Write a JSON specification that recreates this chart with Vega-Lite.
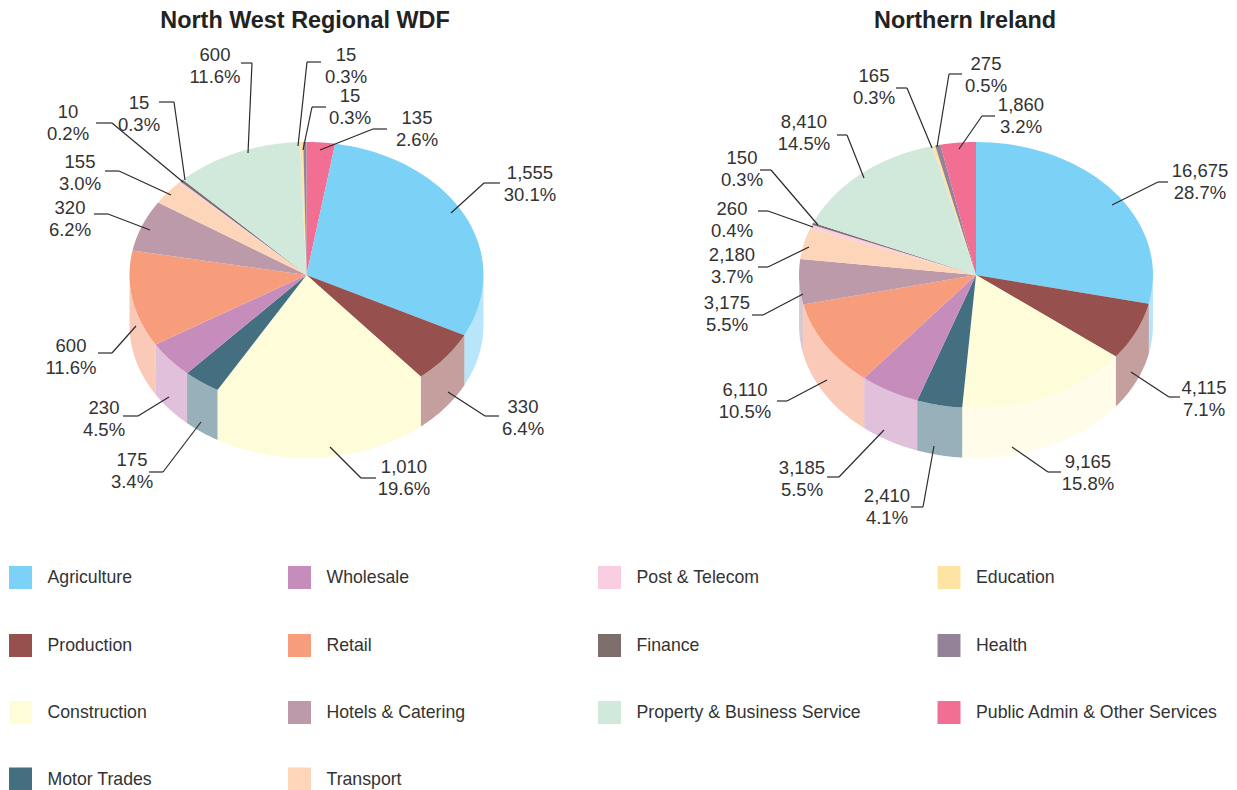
{
"$schema":"https://vega.github.io/schema/vega-lite/v6.json",
"width":1237,"height":790,"padding":0,"autosize":{"type":"none"},"background":"white",
"config":{"view":{"stroke":null},"font":"Liberation Sans"},
"datasets":{
"sectors":[
{"panel":1,"chart":"North West Regional WDF","rank":0,"sector":"Public Admin & Other Services","value":135,"share":0.026},
{"panel":1,"chart":"North West Regional WDF","rank":1,"sector":"Agriculture","value":1555,"share":0.301},
{"panel":1,"chart":"North West Regional WDF","rank":2,"sector":"Production","value":330,"share":0.064},
{"panel":1,"chart":"North West Regional WDF","rank":3,"sector":"Construction","value":1010,"share":0.196},
{"panel":1,"chart":"North West Regional WDF","rank":4,"sector":"Motor Trades","value":175,"share":0.034},
{"panel":1,"chart":"North West Regional WDF","rank":5,"sector":"Wholesale","value":230,"share":0.045},
{"panel":1,"chart":"North West Regional WDF","rank":6,"sector":"Retail","value":600,"share":0.116},
{"panel":1,"chart":"North West Regional WDF","rank":7,"sector":"Hotels & Catering","value":320,"share":0.062},
{"panel":1,"chart":"North West Regional WDF","rank":8,"sector":"Transport","value":155,"share":0.03},
{"panel":1,"chart":"North West Regional WDF","rank":9,"sector":"Post & Telecom","value":10,"share":0.002},
{"panel":1,"chart":"North West Regional WDF","rank":10,"sector":"Finance","value":15,"share":0.003},
{"panel":1,"chart":"North West Regional WDF","rank":11,"sector":"Property & Business Service","value":600,"share":0.116},
{"panel":1,"chart":"North West Regional WDF","rank":12,"sector":"Education","value":15,"share":0.003},
{"panel":1,"chart":"North West Regional WDF","rank":13,"sector":"Health","value":15,"share":0.003},
{"panel":2,"chart":"Northern Ireland","rank":0,"sector":"Agriculture","value":16675,"share":0.287},
{"panel":2,"chart":"Northern Ireland","rank":1,"sector":"Production","value":4115,"share":0.071},
{"panel":2,"chart":"Northern Ireland","rank":2,"sector":"Construction","value":9165,"share":0.158},
{"panel":2,"chart":"Northern Ireland","rank":3,"sector":"Motor Trades","value":2410,"share":0.041},
{"panel":2,"chart":"Northern Ireland","rank":4,"sector":"Wholesale","value":3185,"share":0.055},
{"panel":2,"chart":"Northern Ireland","rank":5,"sector":"Retail","value":6110,"share":0.105},
{"panel":2,"chart":"Northern Ireland","rank":6,"sector":"Hotels & Catering","value":3175,"share":0.055},
{"panel":2,"chart":"Northern Ireland","rank":7,"sector":"Transport","value":2180,"share":0.037},
{"panel":2,"chart":"Northern Ireland","rank":8,"sector":"Post & Telecom","value":260,"share":0.004},
{"panel":2,"chart":"Northern Ireland","rank":9,"sector":"Finance","value":150,"share":0.003},
{"panel":2,"chart":"Northern Ireland","rank":10,"sector":"Property & Business Service","value":8410,"share":0.145},
{"panel":2,"chart":"Northern Ireland","rank":11,"sector":"Education","value":165,"share":0.003},
{"panel":2,"chart":"Northern Ireland","rank":12,"sector":"Health","value":275,"share":0.005},
{"panel":2,"chart":"Northern Ireland","rank":13,"sector":"Public Admin & Other Services","value":1860,"share":0.032}
],
"placement":[
{"id":"1|Public Admin & Other Services","ax":320,"ay":150,"bx":373,"by":129,"cx":387,"cy":129,"lx":417,"ly":128.5},
{"id":"1|Agriculture","ax":451,"ay":213,"bx":484,"by":183,"cx":500,"cy":183,"lx":530,"ly":183},
{"id":"1|Production","ax":448,"ay":392,"bx":485,"by":416,"cx":499,"cy":416,"lx":523,"ly":417.5},
{"id":"1|Construction","ax":330,"ay":447,"bx":361,"by":478,"cx":376,"cy":478,"lx":404,"ly":477},
{"id":"1|Motor Trades","ax":201,"ay":422,"bx":163,"by":472,"cx":149,"cy":472,"lx":132,"ly":470.5},
{"id":"1|Wholesale","ax":169,"ay":397,"bx":138,"by":416,"cx":123,"cy":416,"lx":104,"ly":418},
{"id":"1|Retail","ax":136,"ay":326,"bx":112,"by":353,"cx":98,"cy":353,"lx":71,"ly":356},
{"id":"1|Hotels & Catering","ax":150,"ay":230,"bx":108,"by":214,"cx":94,"cy":214,"lx":70,"ly":218},
{"id":"1|Transport","ax":171,"ay":195,"bx":119,"by":171,"cx":105,"cy":171,"lx":80,"ly":172},
{"id":"1|Post & Telecom","ax":183,"ay":182,"bx":112,"by":123,"cx":96,"cy":123,"lx":68,"ly":122},
{"id":"1|Finance","ax":185,"ay":180,"bx":174,"by":102,"cx":159,"cy":102,"lx":139,"ly":113.5},
{"id":"1|Property & Business Service","ax":248,"ay":153,"bx":252,"by":63,"cx":241,"cy":63,"lx":215,"ly":65},
{"id":"1|Education","ax":298,"ay":146,"bx":307,"by":62,"cx":321,"cy":62,"lx":346,"ly":65.5},
{"id":"1|Health","ax":303,"ay":150,"bx":312,"by":107,"cx":326,"cy":107,"lx":350,"ly":106},
{"id":"2|Agriculture","ax":1112,"ay":205,"bx":1158,"by":182,"cx":1168,"cy":182,"lx":1200,"ly":181},
{"id":"2|Production","ax":1131,"ay":372,"bx":1169,"by":397,"cx":1180,"cy":397,"lx":1204,"ly":398},
{"id":"2|Construction","ax":1012,"ay":447,"bx":1048,"by":472,"cx":1061,"cy":472,"lx":1088,"ly":472},
{"id":"2|Motor Trades","ax":934,"ay":446,"bx":923,"by":507,"cx":911,"cy":507,"lx":887,"ly":506},
{"id":"2|Wholesale","ax":884,"ay":430,"bx":839,"by":477,"cx":827,"cy":477,"lx":802,"ly":478},
{"id":"2|Retail","ax":827,"ay":380,"bx":787,"by":401,"cx":777,"cy":401,"lx":745,"ly":400},
{"id":"2|Hotels & Catering","ax":803,"ay":294,"bx":763,"by":315,"cx":752,"cy":315,"lx":727,"ly":313},
{"id":"2|Transport","ax":809,"ay":247,"bx":768,"by":267,"cx":758,"cy":267,"lx":732,"ly":265},
{"id":"2|Post & Telecom","ax":813,"ay":227,"bx":768,"by":211,"cx":758,"cy":211,"lx":732,"ly":219},
{"id":"2|Finance","ax":818,"ay":225,"bx":771,"by":170,"cx":760,"cy":170,"lx":742,"ly":168},
{"id":"2|Property & Business Service","ax":864,"ay":178,"bx":847,"by":135,"cx":837,"cy":135,"lx":804,"ly":132},
{"id":"2|Education","ax":932,"ay":148,"bx":907,"by":88,"cx":896,"cy":88,"lx":874,"ly":86},
{"id":"2|Health","ax":937,"ay":147,"bx":949,"by":74,"cx":962,"cy":74,"lx":986,"ly":74.5},
{"id":"2|Public Admin & Other Services","ax":959,"ay":149,"bx":982,"by":116,"cx":995,"cy":116,"lx":1021,"ly":115}
],
"legendEntries":[
{"sector":"Agriculture","column":1,"row":1},
{"sector":"Production","column":1,"row":2},
{"sector":"Construction","column":1,"row":3},
{"sector":"Motor Trades","column":1,"row":4},
{"sector":"Wholesale","column":2,"row":1},
{"sector":"Retail","column":2,"row":2},
{"sector":"Hotels & Catering","column":2,"row":3},
{"sector":"Transport","column":2,"row":4},
{"sector":"Post & Telecom","column":3,"row":1},
{"sector":"Finance","column":3,"row":2},
{"sector":"Property & Business Service","column":3,"row":3},
{"sector":"Education","column":4,"row":1},
{"sector":"Health","column":4,"row":2},
{"sector":"Public Admin & Other Services","column":4,"row":3}
],
"titles":[{"panel":1,"chart":"North West Regional WDF"},{"panel":2,"chart":"Northern Ireland"}]
},
"layer":[
{"layer":[
{"data":{"name":"sectors"},
 "transform":[
  {"stack":"value","groupby":["panel"],"sort":[{"field":"rank","order":"ascending"}],"offset":"normalize","as":["start","end"]},
  {"filter":"datum.start<0.75 && datum.end>0.25"},
  {"calculate":"max(datum.start,0.25)","as":"ws"},
  {"calculate":"min(datum.end,0.75)","as":"we"},
  {"calculate":"sequence(0,82)","as":"step"},
  {"flatten":["step"]},
  {"calculate":"2*PI*(datum.ws+(datum.we-datum.ws)*(datum.step<=40?datum.step:81-datum.step)/40)","as":"a"},
  {"calculate":"datum.a-0.018*sin(datum.a/2)","as":"t"},
  {"calculate":"(datum.panel==1?306.5:976)+177*sin(datum.t)","as":"px"},
  {"calculate":"275-133*cos(datum.t)+(datum.step<=40?0:50)","as":"py"},
  {"calculate":"datum.panel==1 && datum.sector=='Construction'?'solid':'pale'","as":"tone"}
 ],
 "mark":{"type":"line","filled":true,"interpolate":"linear-closed","strokeWidth":0},
 "encoding":{
  "x":{"field":"px","type":"quantitative","scale":{"domain":[0,1237],"range":[0,1237],"nice":false,"zero":false},"axis":null},
  "y":{"field":"py","type":"quantitative","scale":{"domain":[0,790],"range":[0,790],"nice":false,"zero":false},"axis":null},
  "order":{"field":"step","type":"quantitative"},
  "detail":{"field":"panel"},
  "color":{"field":"sector","type":"nominal","legend":null,"scale":{"domain":["Agriculture","Production","Construction","Motor Trades","Wholesale","Retail","Hotels & Catering","Transport","Post & Telecom","Finance","Property & Business Service","Education","Health","Public Admin & Other Services"],"range":["#7BD1F6","#96504E","#FFFCD9","#446F80","#C68CBC","#F79D7C","#BC9AAA","#FDD5B8","#F9CEE2","#7E6E6B","#D0E9DB","#FEE4A4","#948299","#F26E92"]}},
  "opacity":{"field":"tone","type":"nominal","legend":null,"scale":{"domain":["solid","pale"],"range":[1,0.55]}}
 }},
{"data":{"name":"sectors"},
 "transform":[
  {"stack":"value","groupby":["panel"],"sort":[{"field":"rank","order":"ascending"}],"offset":"normalize","as":["start","end"]},
  {"calculate":"sequence(0,42)","as":"step"},
  {"flatten":["step"]},
  {"calculate":"2*PI*(datum.start+(datum.end-datum.start)*(datum.step-1)/40)","as":"a"},
  {"calculate":"datum.a-0.018*sin(datum.a/2)","as":"t"},
  {"calculate":"(datum.panel==1?306.5:976)+(datum.step==0?0:177*sin(datum.t))","as":"px"},
  {"calculate":"275-(datum.step==0?0:133*cos(datum.t))","as":"py"}
 ],
 "mark":{"type":"line","filled":true,"interpolate":"linear-closed","strokeWidth":0},
 "encoding":{
  "x":{"field":"px","type":"quantitative"},
  "y":{"field":"py","type":"quantitative"},
  "order":{"field":"step","type":"quantitative"},
  "detail":{"field":"panel"},
  "color":{"field":"sector","type":"nominal"}
 }},
{"data":{"name":"sectors"},
 "transform":[
  {"calculate":"datum.panel+'|'+datum.sector","as":"id"},
  {"lookup":"id","from":{"data":{"name":"placement"},"key":"id","fields":["ax","ay","bx","by","cx","cy","lx","ly"]}}
 ],
 "layer":[
  {"mark":{"type":"rule","color":"#2b2b2b","strokeWidth":1.2},
   "encoding":{"x":{"field":"ax","type":"quantitative"},"y":{"field":"ay","type":"quantitative"},"x2":{"field":"bx"},"y2":{"field":"by"}}},
  {"mark":{"type":"rule","color":"#2b2b2b","strokeWidth":1.2},
   "encoding":{"x":{"field":"bx","type":"quantitative"},"y":{"field":"by","type":"quantitative"},"x2":{"field":"cx"},"y2":{"field":"cy"}}},
  {"mark":{"type":"text","fontSize":18.5,"color":"#333333","dy":-10.5,"align":"center","baseline":"middle"},
   "encoding":{"x":{"field":"lx","type":"quantitative"},"y":{"field":"ly","type":"quantitative"},"text":{"field":"value","type":"quantitative","format":",d"}}},
  {"mark":{"type":"text","fontSize":18.5,"color":"#333333","dy":11.5,"align":"center","baseline":"middle"},
   "encoding":{"x":{"field":"lx","type":"quantitative"},"y":{"field":"ly","type":"quantitative"},"text":{"field":"share","type":"quantitative","format":".1%"}}}
 ]}
]},
{"data":{"name":"legendEntries"},
 "encoding":{
  "x":{"field":"column","type":"quantitative","scale":{"domain":[1,2,3,4],"range":[20.5,299.5,609.5,949],"nice":false,"zero":false},"axis":null},
  "y":{"field":"row","type":"quantitative","scale":{"domain":[1,2,3,4],"range":[577.5,645.5,712.5,779],"nice":false,"zero":false},"axis":null}
 },
 "layer":[
  {"mark":{"type":"square","size":529,"opacity":1,"filled":true},
   "encoding":{"color":{"field":"sector","type":"nominal"}}},
  {"mark":{"type":"text","fontSize":17.7,"color":"#333333","align":"left","baseline":"middle","dx":27,"dy":0.5},
   "encoding":{"text":{"field":"sector","type":"nominal"}}}
 ]},
{"data":{"name":"titles"},
 "mark":{"type":"text","fontSize":23.4,"fontWeight":"bold","color":"#222222","align":"center","baseline":"middle"},
 "encoding":{
  "x":{"field":"panel","type":"quantitative","scale":{"domain":[1,2],"range":[305,965],"nice":false,"zero":false},"axis":null},
  "y":{"value":21},
  "text":{"field":"chart","type":"nominal"}
 }}
],
"resolve":{"scale":{"x":"independent","y":"independent"}}
}
